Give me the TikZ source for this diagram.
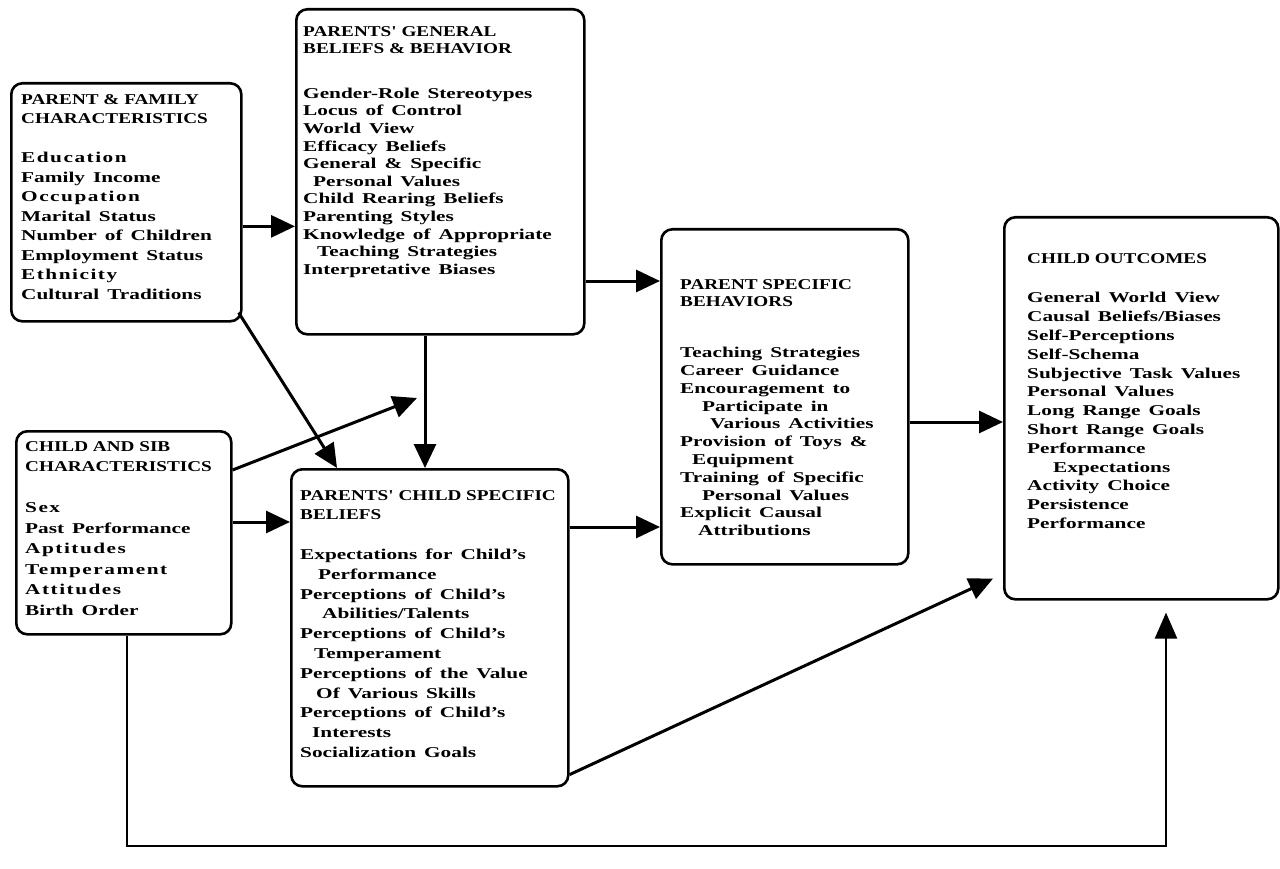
\documentclass[tikz,border=0pt]{standalone}
\usepackage{fontspec}
\setmainfont{Liberation Serif}[FakeStretch=1.42, WordSpace=1.5]
\newfontfamily\headfont{Liberation Serif}[FakeStretch=1.28]
\usetikzlibrary{arrows.meta,calc}
\newcommand{\wideletters}[1]{{\addfontfeature{LetterSpace=10}#1}}
\newcommand{\ind}[1]{\hspace*{#1pt}}
\newcommand{\hd}[1]{{\headfont #1}}

\begin{document}
\begin{tikzpicture}[x=1pt,y=-1pt,
  box/.style={draw, line width=2.6pt, rounded corners=11pt, inner sep=0pt,
              anchor=north west},
  txt/.style={anchor=north west, inner sep=0pt, align=left,
              font=\fontsize{15}{19.5}\selectfont\bfseries},
  arr/.style={line width=3pt, -{Triangle[length=24pt,width=22pt]}},
  loop/.style={line width=2.4pt, -{Triangle[length=26pt,width=22pt]}},
  ]
\useasboundingbox (0,0) rectangle (1280,869);

% ---- boxes ----
\node[box, minimum width=230pt, minimum height=238pt] (A) at (10,82) {};
\node[box, minimum width=288pt, minimum height=325pt] (B) at (295,8) {};
\node[box, minimum width=215pt, minimum height=203pt] (C) at (15,430) {};
\node[box, minimum width=277pt, minimum height=317pt] (D) at (290,468) {};
\node[box, minimum width=247pt, minimum height=335pt] (E) at (660,228) {};
\node[box, minimum width=274pt, minimum height=382pt] (F) at (1003,216) {};

% ---- box contents ----
\node[txt] (At) at ($(A.north west)+(11,12)$) {%
\hd{PARENT \& FAMILY}\\\hd{CHARACTERISTICS}\\[19.5pt]
\wideletters{Education}\\Family Income\\\wideletters{Occupation}\\Marital Status\\
Number of Children\\Employment Status\\\wideletters{Ethnicity}\\Cultural Traditions};

\node[txt, font=\fontsize{15}{17.6}\selectfont\bfseries] (Bt) at ($(B.north west)+(8,18)$) {%
\hd{PARENTS' GENERAL}\\\hd{BELIEFS \& BEHAVIOR}\\[27pt]
Gender-Role Stereotypes\\Locus of Control\\World View\\Efficacy Beliefs\\
General \& Specific\\\ind{10}Personal Values\\Child Rearing Beliefs\\Parenting Styles\\
Knowledge of Appropriate\\\ind{14}Teaching Strategies\\Interpretative Biases};

\node[txt, font=\fontsize{15}{20.5}\selectfont\bfseries] (Ct) at ($(C.north west)+(10,11)$) {%
\hd{CHILD AND SIB}\\\hd{CHARACTERISTICS}\\[20.5pt]
\wideletters{Sex}\\Past Performance\\\wideletters{Aptitudes}\\\wideletters{Temperament}\\
\wideletters{Attitudes}\\Birth Order};

\node[txt, font=\fontsize{15}{19.8}\selectfont\bfseries] (Dt) at ($(D.north west)+(10,22)$) {%
\hd{PARENTS' CHILD SPECIFIC}\\\hd{BELIEFS}\\[19.8pt]
Expectations for Child's\\\ind{18}Performance\\Perceptions of Child's\\\ind{22}Abilities/Talents\\
Perceptions of Child's\\\ind{14}Temperament\\Perceptions of the Value\\\ind{16}Of Various Skills\\
Perceptions of Child's\\\ind{12}Interests\\Socialization Goals};

\node[txt, font=\fontsize{15}{17.8}\selectfont\bfseries] (Et) at ($(E.north west)+(20,51)$) {%
\hd{PARENT SPECIFIC}\\\hd{BEHAVIORS}\\[33pt]
Teaching Strategies\\Career Guidance\\Encouragement to\\\ind{22}Participate in\\
\ind{30}Various Activities\\Provision of Toys \&\\\ind{12}Equipment\\Training of Specific\\
\ind{22}Personal Values\\Explicit Causal\\\ind{18}Attributions};

\node[txt, font=\fontsize{15}{18.8}\selectfont\bfseries] (Ft) at ($(F.north west)+(24,37)$) {%
\hd{CHILD OUTCOMES}\\[21pt]
General World View\\Causal Beliefs/Biases\\Self-Perceptions\\Self-Schema\\
Subjective Task Values\\Personal Values\\Long Range Goals\\Short Range Goals\\
Performance\\\ind{26}Expectations\\Activity Choice\\Persistence\\Performance};

% ---- connectors ----
% family characteristics -> general beliefs
\draw[arr] ($(A.north east)!0.6!(A.south east)$) coordinate (a1) -- (a1 -| B.west);
% family characteristics -> child specific beliefs
\draw[arr] ($(A.south east)+(-4,-10)$) -- ($(D.north west)+(47,0)$);
% child characteristics -> open end between the two parent boxes
\coordinate (open) at (417,398);
\draw[arr] ($(C.north east)+(0,40)$) -- (open);
% general beliefs -> child specific beliefs
\draw[arr] ($(B.south west)+(130,0)$) coordinate (b1) -- (b1 |- D.north);
% child characteristics -> child specific beliefs
\draw[arr] ($(C.north east)+(0,92)$) coordinate (c1) -- (c1 -| D.west);
% general beliefs -> parent specific behaviors
\draw[arr] ($(B.north east)+(0,273)$) coordinate (b2) -- (b2 -| E.west);
% child specific beliefs -> parent specific behaviors
\draw[arr] ($(D.north east)+(0,59)$) coordinate (d1) -- (d1 -| E.west);
% parent specific behaviors -> child outcomes
\draw[arr] ($(E.north east)+(0,194)$) coordinate (e1) -- (e1 -| F.west);
% child specific beliefs -> child outcomes
\draw[arr] ($(D.south east)+(0,-13)$) -- ($(F.south west)+(-10,-22)$);
% child characteristics -> child outcomes, along the bottom
\coordinate (low) at (0,846);
\coordinate (c2) at ($(C.south west)+(112,0)$);
\coordinate (f1) at ($(F.south west)+(163,12)$);
\draw[loop] (c2) -- (c2 |- low) -- (f1 |- low) -- (f1);
\end{tikzpicture}
\end{document}
